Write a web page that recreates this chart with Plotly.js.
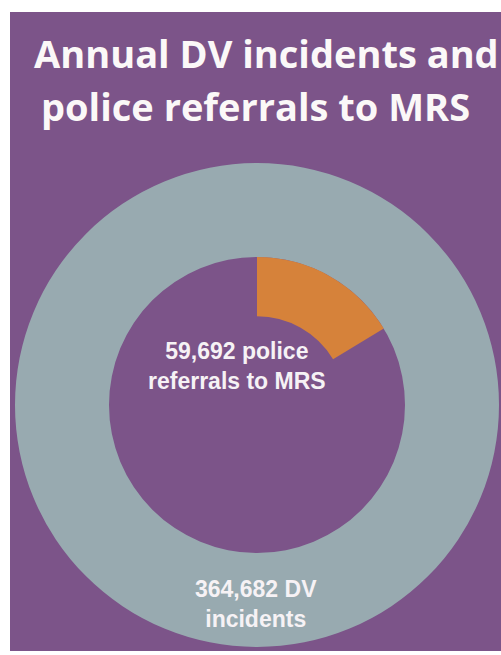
<!DOCTYPE html>
<html>
<head>
<meta charset="utf-8">
<script src="https://cdn.plot.ly/plotly-3.0.1.min.js"></script>
<style>html,body{margin:0;padding:0;background:#fff;}#chart{width:501px;height:655px;}</style>
</head>
<body>
<div id="chart"></div>
<script>
// ---- data ----
const titleLines = ["Annual DV incidents and", "police referrals to MRS"];
const incidentsLabel = "DV incidents";
const incidentsValue = 364682;
const referralsLabel = "police referrals to MRS";
const referralsValue = 59692;

// ---- styles ----
const purple = "#7c5489";
const grey = "#98aab0";
const orange = "#d6823a";
const W = 501, H = 655;

function fmt(n){ return n.toLocaleString("en-US"); }

// pixel helpers -> paper fractions
function px(x){ return x / W; }
function py(y){ return 1 - y / H; }

const cx = 257, cy = 405, rOuter = 242, rMid = 148;

const outer = {
  type: "pie",
  values: [incidentsValue],
  labels: [incidentsLabel],
  hole: rMid / rOuter,
  sort: false,
  direction: "clockwise",
  rotation: 0,
  textinfo: "none",
  hoverinfo: "label+value",
  marker: { colors: [grey], line: { width: 0 } },
  domain: { x: [px(cx - rOuter), px(cx + rOuter)], y: [py(cy + rOuter), py(cy - rOuter)] },
  showlegend: false
};

const inner = {
  type: "pie",
  values: [referralsValue, incidentsValue - referralsValue],
  labels: [referralsLabel, "other"],
  hole: 0.60,
  sort: false,
  direction: "clockwise",
  rotation: 0,
  textinfo: "none",
  hoverinfo: "label+value",
  marker: { colors: [orange, "rgba(0,0,0,0)"], line: { width: 0 } },
  domain: { x: [px(cx - rMid), px(cx + rMid)], y: [py(cy + rMid), py(cy - rMid)] },
  showlegend: false
};

const labelFont = { family: "Liberation Sans, Arial, sans-serif", size: 23, color: "#f6f2f5", weight: "bold" };
const titleFont = { family: "Open Sans, sans-serif", size: 38, color: "#fbf8f8", weight: "bold" };

const layout = {
  width: W, height: H,
  margin: { l: 0, r: 0, t: 0, b: 0 },
  paper_bgcolor: "#ffffff",
  showlegend: false,
  shapes: [{
    type: "rect", xref: "paper", yref: "paper", layer: "below",
    x0: px(10), x1: 1, y0: py(651), y1: py(12),
    fillcolor: purple, line: { width: 0 }
  }],
  annotations: [
    {
      text: titleLines[0],
      xref: "paper", yref: "paper", x: px(266), y: py(53),
      xanchor: "center", yanchor: "middle", showarrow: false,
      font: titleFont
    },
    {
      text: titleLines[1],
      xref: "paper", yref: "paper", x: px(256), y: py(106),
      xanchor: "center", yanchor: "middle", showarrow: false,
      font: titleFont
    },
    {
      text: fmt(referralsValue) + " police<br>referrals to MRS",
      xref: "paper", yref: "paper", x: px(237), y: py(366),
      xanchor: "center", yanchor: "middle", showarrow: false,
      font: labelFont
    },
    {
      text: fmt(incidentsValue) + " DV<br>incidents",
      xref: "paper", yref: "paper", x: px(256), y: py(604),
      xanchor: "center", yanchor: "middle", showarrow: false,
      font: labelFont
    }
  ]
};

Plotly.newPlot("chart", [outer, inner], layout, { displayModeBar: false, staticPlot: true });
</script>
</body>
</html>
